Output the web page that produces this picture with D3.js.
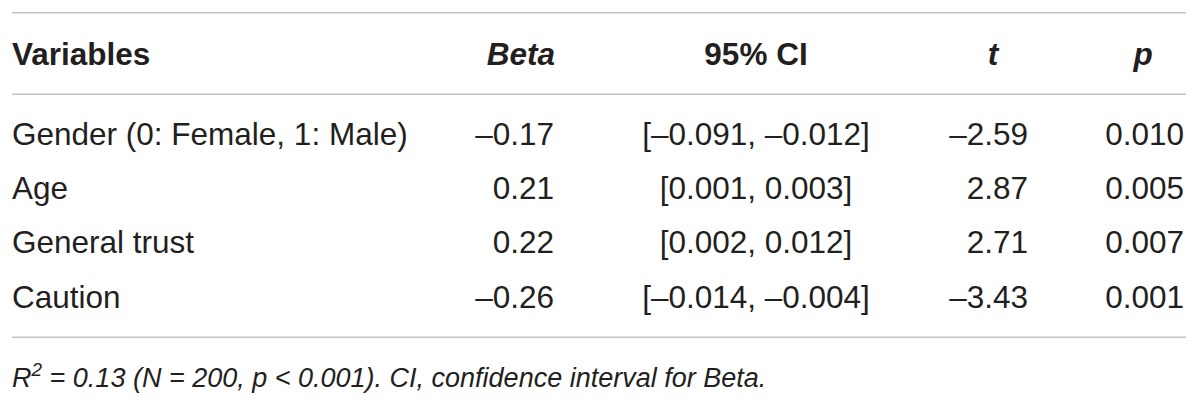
<!DOCTYPE html>
<html>
<head>
<meta charset="utf-8">
<script src="https://cdn.jsdelivr.net/npm/d3@7"></script>
<style>
  html, body { margin: 0; padding: 0; background: #fff; }
  svg { display: block; font-family: "Liberation Sans", Arial, Helvetica, sans-serif; }
</style>
</head>
<body>
<svg id="chart" width="1200" height="407"></svg>
<script>
// ---- data ----
const headers = ["Variables", "Beta", "95% CI", "t", "p"];
const variables = ["Gender (0: Female, 1: Male)", "Age", "General trust", "Caution"];
const beta = [-0.17, 0.21, 0.22, -0.26];
const ciLower = [-0.091, 0.001, 0.002, -0.014];
const ciUpper = [-0.012, 0.003, 0.012, -0.004];
const tValues = [-2.59, 2.87, 2.71, -3.43];
const pValues = [0.010, 0.005, 0.007, 0.001];
const footnote = " = 0.13 (N = 200, p < 0.001). CI, confidence interval for Beta.";

// ---- formatting ----
const dash = "\u2013";
function fmt(v, d) {
  const s = Math.abs(v).toFixed(d);
  return (v < 0 ? dash : "") + s;
}

const svg = d3.select("#chart");
const textColor = "#231f20";
const lineColor = "#c3c3c3";
const fs = 31.5;

// column layout
const cols = [
  { key: "var",  x: 12,   anchor: "start",  hx: 12,   hanchor: "start",  hstyle: "normal" },
  { key: "beta", x: 554,  anchor: "end",    hx: 555,  hanchor: "end",    hstyle: "italic" },
  { key: "ci",   x: 756,  anchor: "middle", hx: 756,  hanchor: "middle", hstyle: "normal" },
  { key: "t",    x: 1028, anchor: "end",    hx: 993,  hanchor: "middle", hstyle: "italic" },
  { key: "p",    x: 1184, anchor: "end",    hx: 1143, hanchor: "middle", hstyle: "italic" }
];

const y = d3.scalePoint().domain(variables).range([145, 307.5]);

// rules
const rules = [12.7, 94.3, 337.3];
svg.selectAll("line.rule").data(rules).join("line")
  .attr("class", "rule")
  .attr("x1", 12).attr("x2", 1186)
  .attr("y1", d => d).attr("y2", d => d)
  .attr("stroke", lineColor).attr("stroke-width", 1.6);

// header
svg.selectAll("text.hdr").data(headers).join("text")
  .attr("class", "hdr")
  .attr("x", (d, i) => cols[i].hx)
  .attr("y", 65)
  .attr("text-anchor", (d, i) => cols[i].hanchor)
  .attr("font-style", (d, i) => cols[i].hstyle)
  .attr("font-weight", "bold")
  .attr("font-size", fs)
  .attr("fill", textColor)
  .text(d => d);

// rows
const rows = variables.map((v, i) => ({
  var: v,
  beta: fmt(beta[i], 2),
  ci: "[" + fmt(ciLower[i], 3) + ", " + fmt(ciUpper[i], 3) + "]",
  t: fmt(tValues[i], 2),
  p: fmt(pValues[i], 3)
}));

const g = svg.selectAll("g.row").data(rows).join("g").attr("class", "row");
cols.forEach(c => {
  g.append("text")
    .attr("x", c.x)
    .attr("y", d => y(d.var))
    .attr("text-anchor", c.anchor)
    .attr("font-size", fs)
    .attr("fill", textColor)
    .text(d => d[c.key]);
});

// footnote
const fn = svg.append("text")
  .attr("x", 12).attr("y", 386.5)
  .attr("font-size", 27)
  .attr("font-style", "italic")
  .attr("fill", textColor);
fn.append("tspan").text("R");
fn.append("tspan").attr("font-size", 19).attr("dy", -11).text("2");
fn.append("tspan").attr("dy", 11).text(footnote);
</script>
</body>
</html>
